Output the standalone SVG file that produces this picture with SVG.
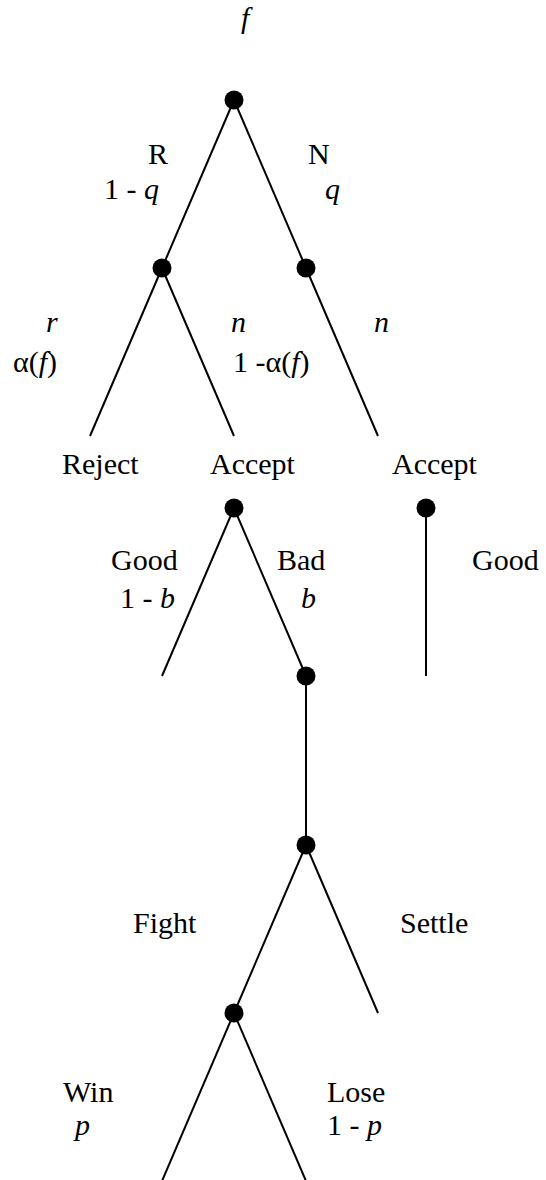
<svg xmlns="http://www.w3.org/2000/svg" width="546" height="1180" viewBox="0 0 546 1180" font-family="'Liberation Serif', 'Times New Roman', Times, serif" font-size="30">
<style>
.e{stroke:#000;stroke-width:2;fill:none}
.n{fill:#000}
text{font-family:'Liberation Serif','Times New Roman',Times,serif;font-size:30px;fill:#000}
.i{font-style:italic}
</style>
<rect width="546" height="1180" fill="#fff"/>
<g id="connectors">
<line class="e" x1="234" y1="100" x2="162" y2="268"/>
<line class="e" x1="234" y1="100" x2="306" y2="268"/>
<line class="e" x1="162" y1="268" x2="90" y2="436"/>
<line class="e" x1="162" y1="268" x2="234" y2="436"/>
<line class="e" x1="306" y1="268" x2="378" y2="436"/>
<line class="e" x1="234" y1="508" x2="162" y2="676"/>
<line class="e" x1="234" y1="508" x2="306" y2="676"/>
<line class="e" x1="426" y1="508" x2="426" y2="676"/>
<line class="e" x1="306" y1="676" x2="306" y2="845"/>
<line class="e" x1="306" y1="845" x2="234" y2="1013"/>
<line class="e" x1="306" y1="845" x2="378" y2="1013"/>
<line class="e" x1="234" y1="1013" x2="162" y2="1181"/>
<line class="e" x1="234" y1="1013" x2="306" y2="1181"/>
</g>
<g id="node-root"><circle class="n" cx="234" cy="100" r="9.5"/><text x="241" y="28" class="i">f</text></g>
<g id="node-R"><circle class="n" cx="162" cy="268" r="9.5"/></g>
<g id="node-N"><circle class="n" cx="306" cy="268" r="9.5"/></g>
<g id="label-R"><text x="148" y="164">R</text><text x="104" y="199">1 - <tspan class="i">q</tspan></text></g>
<g id="label-N"><text x="308" y="164">N</text><text x="325" y="199" class="i">q</text></g>
<g id="label-r"><text x="46" y="332" class="i">r</text><text x="13" y="372">α(<tspan class="i">f</tspan>)</text></g>
<g id="label-n1"><text x="231" y="332" class="i">n</text><text x="233" y="372">1 -α(<tspan class="i">f</tspan>)</text></g>
<g id="label-n2"><text x="374" y="332" class="i">n</text></g>
<g id="leaf-reject"><text x="62" y="474">Reject</text></g>
<g id="leaf-accept1"><text x="210" y="474">Accept</text></g>
<g id="leaf-accept2"><text x="392" y="474">Accept</text></g>
<g id="node-accept"><circle class="n" cx="234" cy="508" r="9.5"/></g>
<g id="node-accept2"><circle class="n" cx="426" cy="508" r="9.5"/></g>
<g id="label-good1"><text x="111" y="570">Good</text><text x="120" y="608">1 - <tspan class="i">b</tspan></text></g>
<g id="label-bad"><text x="277" y="570">Bad</text><text x="301" y="608" class="i">b</text></g>
<g id="label-good2"><text x="472" y="570">Good</text></g>
<g id="node-bad"><circle class="n" cx="306" cy="676" r="9.5"/></g>
<g id="node-fight"><circle class="n" cx="306" cy="845" r="9.5"/></g>
<g id="label-fight"><text x="133" y="933">Fight</text></g>
<g id="label-settle"><text x="400" y="933">Settle</text></g>
<g id="node-win"><circle class="n" cx="234" cy="1013" r="9.5"/></g>
<g id="label-win"><text x="63" y="1102">Win</text><text x="75" y="1135" class="i">p</text></g>
<g id="label-lose"><text x="327" y="1102">Lose</text><text x="327" y="1135">1 - <tspan class="i">p</tspan></text></g>
</svg>
